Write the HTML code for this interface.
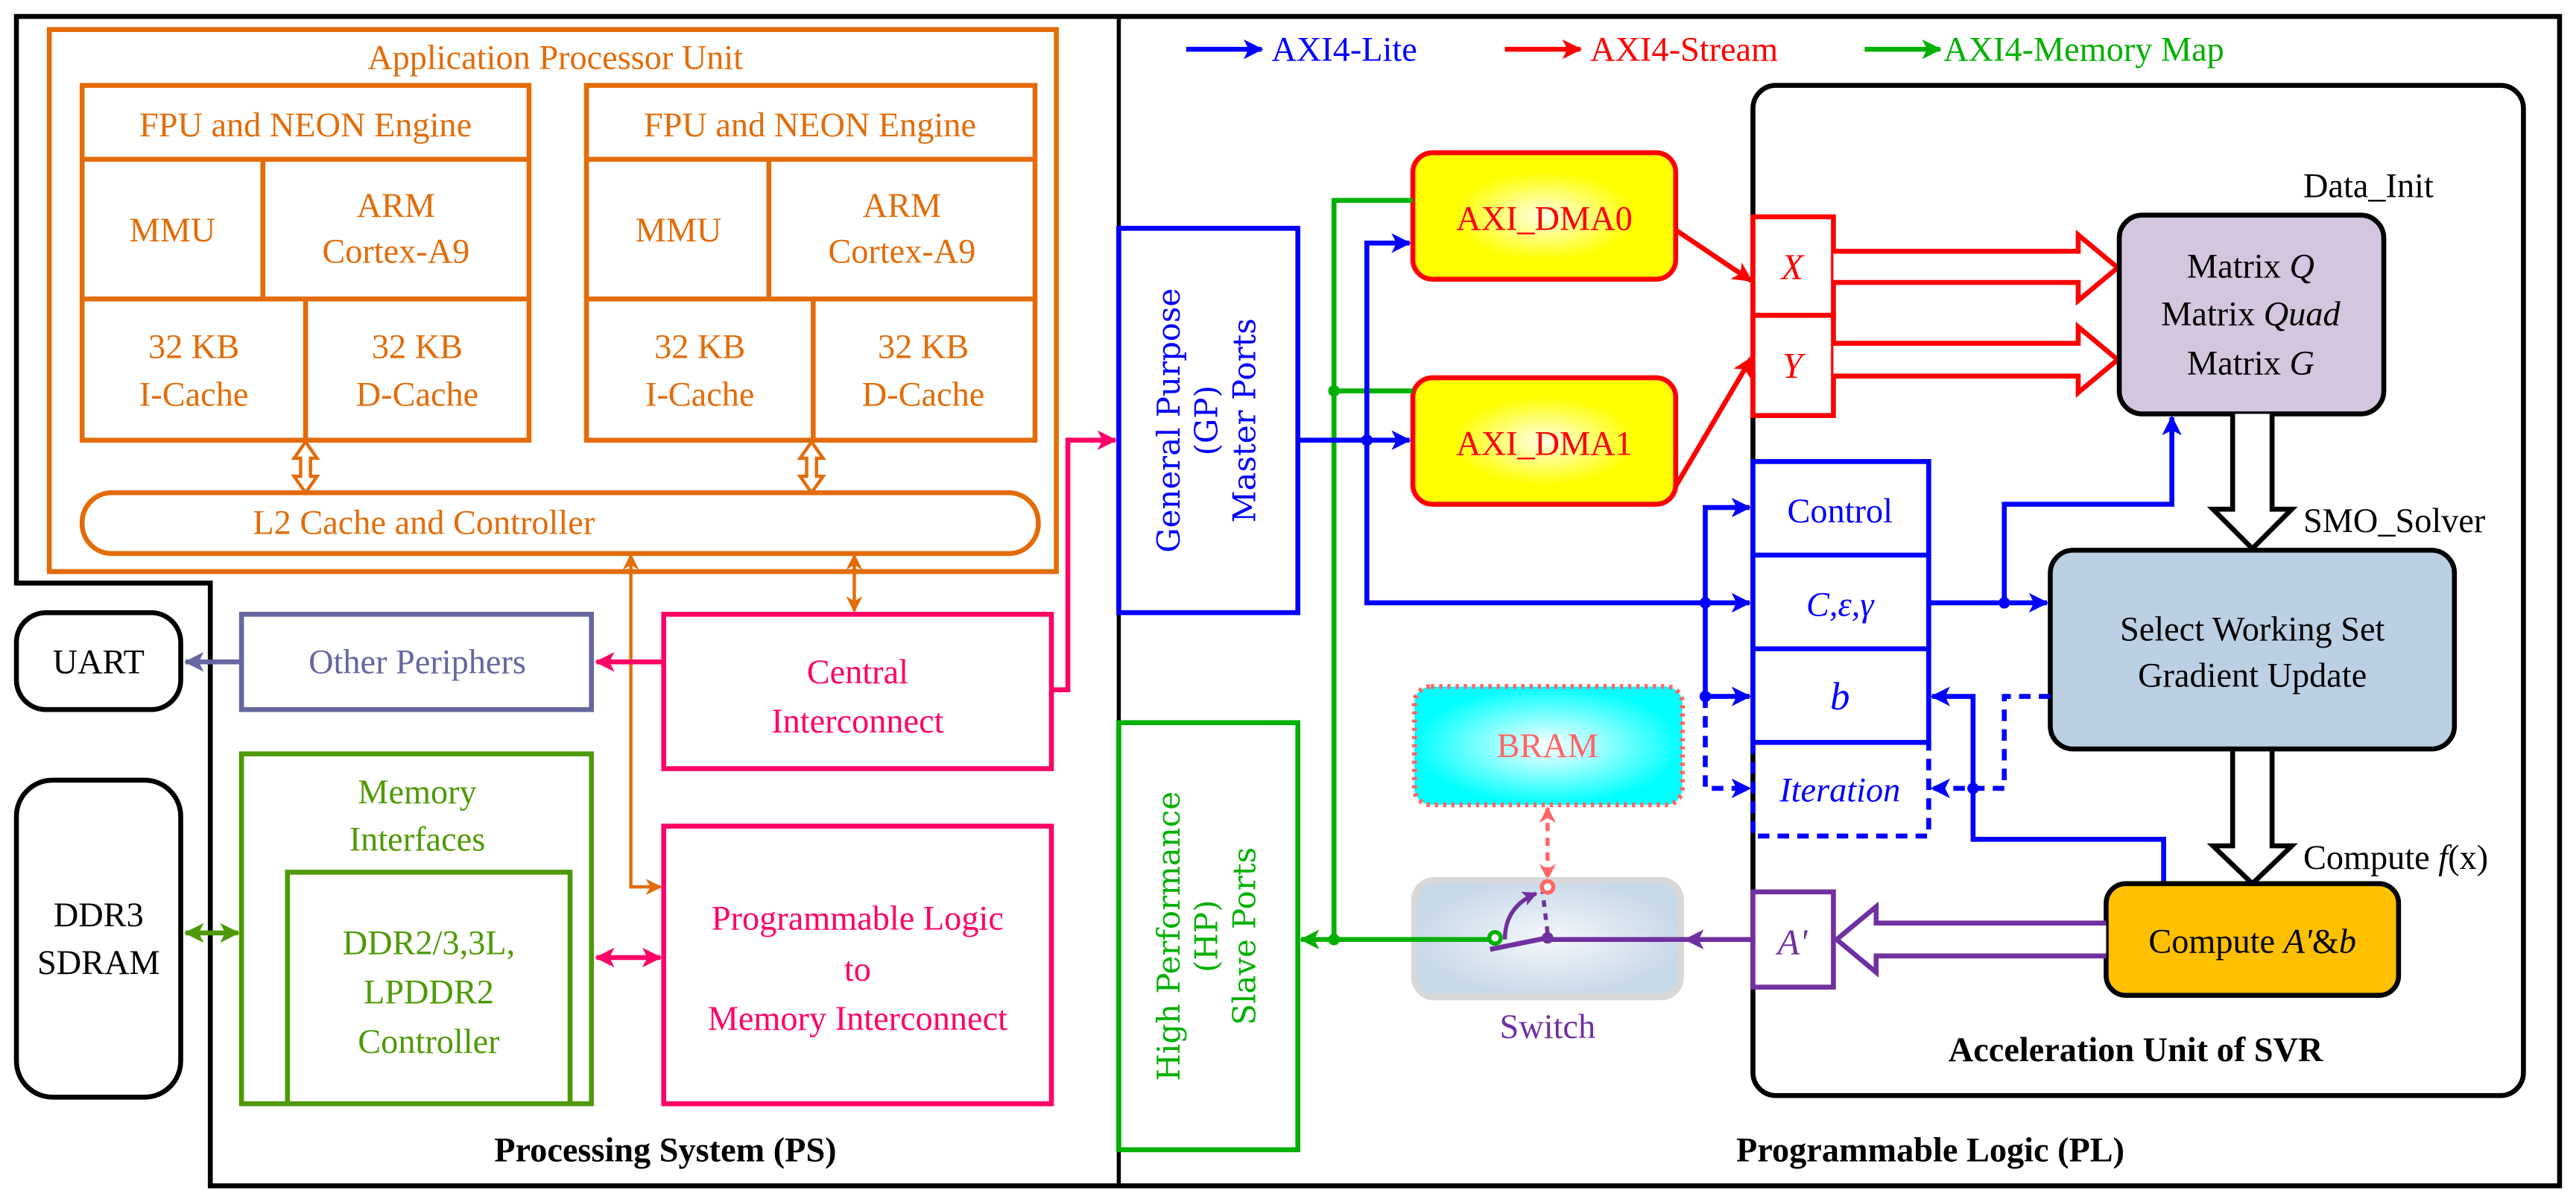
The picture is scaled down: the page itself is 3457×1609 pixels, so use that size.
<!DOCTYPE html>
<html><head><meta charset="utf-8"><style>
html,body{margin:0;padding:0;background:#fff;}
svg{display:block;}
</style></head><body>
<svg width="3457" height="1609" viewBox="0 0 1568 730" preserveAspectRatio="none" xmlns="http://www.w3.org/2000/svg" font-family="'Liberation Serif', 'DejaVu Serif Condensed', serif">
<defs>
<marker id="aO" markerWidth="10" markerHeight="10" refX="9" refY="5" orient="auto-start-reverse" markerUnits="userSpaceOnUse"><path d="M0,0 L10,5 L0,10 L3,5 Z" fill="#e36c09"/></marker>
<marker id="aP" markerWidth="12" markerHeight="12" refX="11" refY="6" orient="auto-start-reverse" markerUnits="userSpaceOnUse"><path d="M0,0 L12,6 L0,12 L3,6 Z" fill="#ff0066"/></marker>
<marker id="aS" markerWidth="12" markerHeight="12" refX="11" refY="6" orient="auto-start-reverse" markerUnits="userSpaceOnUse"><path d="M0,0 L12,6 L0,12 L3,6 Z" fill="#6666a0"/></marker>
<marker id="aG" markerWidth="12" markerHeight="12" refX="11" refY="6" orient="auto-start-reverse" markerUnits="userSpaceOnUse"><path d="M0,0 L12,6 L0,12 L3,6 Z" fill="#4e9a06"/></marker>
<marker id="aG2" markerWidth="12" markerHeight="12" refX="11" refY="6" orient="auto-start-reverse" markerUnits="userSpaceOnUse"><path d="M0,0 L12,6 L0,12 L3,6 Z" fill="#00b000"/></marker>
<marker id="aB" markerWidth="12" markerHeight="12" refX="11" refY="6" orient="auto-start-reverse" markerUnits="userSpaceOnUse"><path d="M0,0 L12,6 L0,12 L3,6 Z" fill="#0000ff"/></marker>
<marker id="aR" markerWidth="12" markerHeight="12" refX="11" refY="6" orient="auto-start-reverse" markerUnits="userSpaceOnUse"><path d="M0,0 L12,6 L0,12 L3,6 Z" fill="#ff0000"/></marker>
<marker id="aV" markerWidth="12" markerHeight="12" refX="11" refY="6" orient="auto-start-reverse" markerUnits="userSpaceOnUse"><path d="M0,0 L12,6 L0,12 L3,6 Z" fill="#7030a0"/></marker>
<marker id="aV2" markerWidth="9" markerHeight="9" refX="8" refY="4.5" orient="auto" markerUnits="userSpaceOnUse"><path d="M0,0 L9,4.5 L0,9 L2,4.5 Z" fill="#7030a0"/></marker>
<marker id="aL" markerWidth="10" markerHeight="10" refX="9" refY="5" orient="auto-start-reverse" markerUnits="userSpaceOnUse"><path d="M0,0 L10,5 L0,10 L3,5 Z" fill="#ff6666"/></marker>
<radialGradient id="gy"><stop offset="0" stop-color="#ffffe8"/><stop offset="0.7" stop-color="#ffff00"/></radialGradient>
<radialGradient id="gc"><stop offset="0" stop-color="#ffffff"/><stop offset="1" stop-color="#00ffff"/></radialGradient>
<radialGradient id="gs"><stop offset="0" stop-color="#f4f7fb"/><stop offset="1" stop-color="#c8d9e8"/></radialGradient>
</defs>

<path d="M10,355 L10,10 L1558,10 L1558,722 L128,722 L128,355 Z" fill="none" stroke="#000" stroke-width="3"/>
<line x1="681" y1="10" x2="681" y2="722" stroke="#000" stroke-width="2.5"/>

<g stroke="#e36c09" stroke-width="3" fill="none">
<rect x="30" y="18" width="613" height="330"/>
<rect x="50" y="52" width="272" height="216"/>
<line x1="50" y1="97" x2="322" y2="97"/><line x1="50" y1="182" x2="322" y2="182"/>
<line x1="160" y1="97" x2="160" y2="182"/><line x1="186" y1="182" x2="186" y2="268"/>
<rect x="357" y="52" width="273" height="216"/>
<line x1="357" y1="97" x2="630" y2="97"/><line x1="357" y1="182" x2="630" y2="182"/>
<line x1="468" y1="97" x2="468" y2="182"/><line x1="495" y1="182" x2="495" y2="268"/>
<rect x="50" y="300" width="582" height="37" rx="18"/>
<path d="M186,269 L193,279 L189,279 L189,290 L193,290 L186,300 L179,290 L183,290 L183,279 L179,279 Z" stroke-width="2"/>
<path d="M494,269 L501,279 L497,279 L497,290 L501,290 L494,300 L487,290 L491,290 L491,279 L487,279 Z" stroke-width="2"/>
<polyline points="384,338 384,540 402,540" marker-start="url(#aO)" marker-end="url(#aO)" stroke-width="2"/>
<line x1="520" y1="338" x2="520" y2="372" marker-start="url(#aO)" marker-end="url(#aO)" stroke-width="2"/>
</g>
<g fill="#e36c09" font-size="21" text-anchor="middle">
<text x="338" y="42">Application Processor Unit</text>
<text x="186" y="83">FPU and NEON Engine</text>
<text x="493" y="83">FPU and NEON Engine</text>
<text x="105" y="147">MMU</text><text x="241" y="132">ARM</text><text x="241" y="160">Cortex-A9</text>
<text x="413" y="147">MMU</text><text x="549" y="132">ARM</text><text x="549" y="160">Cortex-A9</text>
<text x="118" y="218">32 KB</text><text x="118" y="247">I-Cache</text>
<text x="254" y="218">32 KB</text><text x="254" y="247">D-Cache</text>
<text x="426" y="218">32 KB</text><text x="426" y="247">I-Cache</text>
<text x="562" y="218">32 KB</text><text x="562" y="247">D-Cache</text>
<text x="258" y="325">L2 Cache and Controller</text>
</g>

<rect x="10" y="373" width="100" height="59" rx="18" fill="none" stroke="#000" stroke-width="3"/>
<text x="60" y="410" font-size="21" text-anchor="middle">UART</text>
<rect x="10" y="475" width="100" height="193" rx="22" fill="none" stroke="#000" stroke-width="3"/>
<text x="60" y="564" font-size="21" text-anchor="middle">DDR3</text>
<text x="60" y="593" font-size="21" text-anchor="middle">SDRAM</text>

<rect x="147" y="374" width="213" height="58" fill="none" stroke="#6666a0" stroke-width="3"/>
<text x="254" y="410" font-size="21" text-anchor="middle" fill="#6666a0">Other Periphers</text>
<line x1="147" y1="403" x2="113" y2="403" stroke="#6666a0" stroke-width="3" marker-end="url(#aS)"/>

<rect x="404" y="374" width="236" height="94" fill="none" stroke="#ff0066" stroke-width="3"/>
<text x="522" y="416" font-size="21" text-anchor="middle" fill="#ff0066">Central</text>
<text x="522" y="446" font-size="21" text-anchor="middle" fill="#ff0066">Interconnect</text>
<line x1="404" y1="403" x2="363" y2="403" stroke="#ff0066" stroke-width="3" marker-end="url(#aP)"/>
<polyline points="640,420 650,420 650,268 679,268" fill="none" stroke="#ff0066" stroke-width="3" marker-end="url(#aP)"/>

<g stroke="#4e9a06" stroke-width="3" fill="none">
<rect x="147" y="459" width="213" height="213"/>
<polyline points="175,672 175,531 347,531 347,672"/>
<line x1="113" y1="568" x2="145" y2="568" marker-start="url(#aG)" marker-end="url(#aG)"/>
</g>
<g fill="#4e9a06" font-size="21" text-anchor="middle">
<text x="254" y="489">Memory</text><text x="254" y="518">Interfaces</text>
<text x="261" y="581">DDR2/3,3L,</text><text x="261" y="611">LPDDR2</text><text x="261" y="641">Controller</text>
</g>

<rect x="404" y="503" width="236" height="169" fill="none" stroke="#ff0066" stroke-width="3"/>
<line x1="363" y1="583" x2="402" y2="583" stroke="#ff0066" stroke-width="3" marker-start="url(#aP)" marker-end="url(#aP)"/>
<g fill="#ff0066" font-size="21" text-anchor="middle">
<text x="522" y="566">Programmable Logic</text><text x="522" y="597">to</text><text x="522" y="627">Memory Interconnect</text>
</g>
<text x="405" y="707" font-size="21" font-weight="bold" text-anchor="middle">Processing System (PS)</text>

<rect x="681" y="139" width="109" height="234" fill="none" stroke="#0000ff" stroke-width="3"/>
<g transform="translate(735,256) rotate(-90)" fill="#0000ff" font-size="19" text-anchor="middle" font-family="'DejaVu Serif', serif">
<text x="0" y="-17">General Purpose</text><text x="0" y="6">(GP)</text><text x="0" y="29">Master Ports</text>
</g>
<rect x="681" y="440" width="109" height="260" fill="none" stroke="#00b000" stroke-width="3"/>
<g transform="translate(735,570) rotate(-90)" fill="#00b000" font-size="19" text-anchor="middle" font-family="'DejaVu Serif', serif">
<text x="0" y="-17">High Performance</text><text x="0" y="6">(HP)</text><text x="0" y="29">Slave Ports</text>
</g>

<line x1="722" y1="30" x2="768" y2="30" stroke="#0000ff" stroke-width="3" marker-end="url(#aB)"/>
<text x="774" y="37" font-size="21" fill="#0000ff">AXI4-Lite</text>
<line x1="916" y1="30" x2="962" y2="30" stroke="#ff0000" stroke-width="3" marker-end="url(#aR)"/>
<text x="968" y="37" font-size="21" fill="#ff0000">AXI4-Stream</text>
<line x1="1135" y1="30" x2="1181" y2="30" stroke="#00b000" stroke-width="3" marker-end="url(#aG2)"/>
<text x="1183" y="37" font-size="21" fill="#00b000">AXI4-Memory Map</text>

<rect x="1067" y="52" width="469" height="615" rx="14" fill="none" stroke="#000" stroke-width="3"/>
<text x="1300" y="646" font-size="21" font-weight="bold" text-anchor="middle">Acceleration Unit of SVR</text>

<rect x="860" y="93" width="160" height="77" rx="12" fill="url(#gy)" stroke="#ff0000" stroke-width="3"/>
<text x="940" y="140" font-size="21" fill="#ff0000" text-anchor="middle">AXI_DMA0</text>
<rect x="860" y="230" width="160" height="77" rx="12" fill="url(#gy)" stroke="#ff0000" stroke-width="3"/>
<text x="940" y="277" font-size="21" fill="#ff0000" text-anchor="middle">AXI_DMA1</text>

<polyline points="860,122 812,122 812,572 792,572" fill="none" stroke="#00b000" stroke-width="3" marker-end="url(#aG2)"/>
<line x1="812" y1="238" x2="860" y2="238" stroke="#00b000" stroke-width="3"/>
<circle cx="812" cy="238" r="3.5" fill="#00b000"/>
<circle cx="812" cy="572" r="3.5" fill="#00b000"/>

<line x1="790" y1="268" x2="858" y2="268" stroke="#0000ff" stroke-width="3" marker-end="url(#aB)"/>
<polyline points="858,148 832,148 832,367 1065,367" fill="none" stroke="#0000ff" stroke-width="3" marker-start="url(#aB)" marker-end="url(#aB)"/>
<circle cx="832" cy="268" r="3.5" fill="#0000ff"/>

<rect x="1067" y="132" width="49" height="60" fill="#fff" stroke="#ff0000" stroke-width="3"/>
<rect x="1067" y="192" width="49" height="61" fill="#fff" stroke="#ff0000" stroke-width="3"/>
<text x="1091" y="170" font-size="22" font-style="italic" fill="#ff0000" text-anchor="middle">X</text>
<text x="1091" y="230" font-size="22" font-style="italic" fill="#ff0000" text-anchor="middle">Y</text>
<line x1="1020" y1="140" x2="1066" y2="171" stroke="#ff0000" stroke-width="3" marker-end="url(#aR)"/>
<line x1="1020" y1="296" x2="1066" y2="218" stroke="#ff0000" stroke-width="3" marker-end="url(#aR)"/>
<path d="M1116,153 L1265,153 L1265,143 L1289,163 L1265,183 L1265,172 L1116,172" fill="#fff" stroke="#ff0000" stroke-width="3"/>
<path d="M1116,209 L1265,209 L1265,199 L1289,219 L1265,239 L1265,229 L1116,229" fill="#fff" stroke="#ff0000" stroke-width="3"/>

<rect x="1290" y="131" width="161" height="121" rx="14" fill="#d3c6de" stroke="#000" stroke-width="3"/>
<g font-size="21" text-anchor="middle">
<text x="1370" y="169">Matrix <tspan font-style="italic">Q</tspan></text>
<text x="1370" y="198">Matrix <tspan font-style="italic">Quad</tspan></text>
<text x="1370" y="228">Matrix <tspan font-style="italic">G</tspan></text>
<text x="1402" y="120" text-anchor="start">Data_Init</text>
<text x="1402" y="324" text-anchor="start">SMO_Solver</text>
<text x="1402" y="529" text-anchor="start">Compute <tspan font-style="italic">f</tspan>(x)</text>
</g>
<path d="M1359,252 L1359,310 L1347,310 L1371,334 L1395,310 L1383,310 L1383,252" fill="#fff" stroke="#000" stroke-width="3"/>
<path d="M1359,456 L1359,515 L1347,515 L1371,538 L1395,515 L1383,515 L1383,456" fill="#fff" stroke="#000" stroke-width="3"/>

<rect x="1248" y="335" width="246" height="121" rx="14" fill="#bcd0e4" stroke="#000" stroke-width="3"/>
<text x="1371" y="390" font-size="21" text-anchor="middle">Select Working Set</text>
<text x="1371" y="418" font-size="21" text-anchor="middle">Gradient Update</text>

<g stroke="#0000ff" stroke-width="3" fill="#fff">
<rect x="1067" y="281" width="107" height="171"/>
<line x1="1067" y1="338" x2="1174" y2="338"/>
<line x1="1067" y1="395" x2="1174" y2="395"/>
<polyline points="1067,452 1067,509 1174,509 1174,452" fill="none" stroke-dasharray="7,5"/>
</g>
<g fill="#0000ff" font-size="21" text-anchor="middle">
<text x="1120" y="318">Control</text>
<text x="1120" y="375" font-style="italic">C,ε,γ</text>
<text x="1120" y="432" font-style="italic" font-size="24">b</text>
<text x="1120" y="488" font-style="italic">Iteration</text>
</g>
<polyline points="1065,309 1038,309 1038,424 1065,424" fill="none" stroke="#0000ff" stroke-width="3" marker-start="url(#aB)" marker-end="url(#aB)"/>
<polyline points="1038,424 1038,480 1065,480" fill="none" stroke="#0000ff" stroke-width="3" stroke-dasharray="7,5" marker-end="url(#aB)"/>
<circle cx="1038" cy="367" r="3.5" fill="#0000ff"/><circle cx="1038" cy="424" r="3.5" fill="#0000ff"/>
<line x1="1174" y1="367" x2="1246" y2="367" stroke="#0000ff" stroke-width="3" marker-end="url(#aB)"/>
<polyline points="1220,367 1220,307 1322,307 1322,254" fill="none" stroke="#0000ff" stroke-width="3" marker-end="url(#aB)"/>
<circle cx="1220" cy="367" r="3.5" fill="#0000ff"/>
<polyline points="1317,538 1317,511 1201,511 1201,424 1176,424" fill="none" stroke="#0000ff" stroke-width="3" marker-end="url(#aB)"/>
<polyline points="1248,424 1220,424 1220,480 1176,480" fill="none" stroke="#0000ff" stroke-width="3" stroke-dasharray="7,5" marker-end="url(#aB)"/>
<circle cx="1201" cy="480" r="3.5" fill="#0000ff"/>

<rect x="1282" y="538" width="178" height="68" rx="12" fill="#ffc000" stroke="#000" stroke-width="3"/>
<text x="1371" y="580" font-size="21" text-anchor="middle">Compute <tspan font-style="italic">A'</tspan>&amp;<tspan font-style="italic">b</tspan></text>
<rect x="1067" y="543" width="49" height="58" fill="#fff" stroke="#7030a0" stroke-width="3"/>
<text x="1091" y="581" font-size="22" font-style="italic" fill="#7030a0" text-anchor="middle">A'</text>
<path d="M1282,562 L1142,562 L1142,552 L1118,572 L1142,592 L1142,582 L1282,582" fill="#fff" stroke="#7030a0" stroke-width="3"/>

<rect x="861" y="418" width="163" height="72" rx="10" fill="url(#gc)" stroke="#ff6666" stroke-width="3" stroke-dasharray="2,3"/>
<text x="942" y="461" font-size="21" fill="#ff6666" text-anchor="middle">BRAM</text>
<line x1="942" y1="492" x2="942" y2="535" stroke="#ff6666" stroke-width="2.5" stroke-dasharray="5,4" marker-start="url(#aL)" marker-end="url(#aL)"/>

<rect x="861" y="536" width="162" height="71" rx="12" fill="url(#gs)" stroke="#d8d8d8" stroke-width="4"/>
<line x1="1067" y1="572" x2="1026" y2="572" stroke="#7030a0" stroke-width="3" marker-end="url(#aV)"/>
<line x1="1026" y1="572" x2="942" y2="572" stroke="#7030a0" stroke-width="3"/>
<line x1="812" y1="572" x2="906" y2="572" stroke="#00b000" stroke-width="3"/>
<line x1="907" y1="578" x2="942" y2="571" stroke="#7030a0" stroke-width="3"/>
<circle cx="942" cy="571" r="3.5" fill="#7030a0"/>
<line x1="942" y1="568" x2="939" y2="543" stroke="#7030a0" stroke-width="2.5" stroke-dasharray="4,4"/>
<path d="M916,572 Q916,552 935,544" fill="none" stroke="#7030a0" stroke-width="2.5" marker-end="url(#aV2)"/>
<circle cx="910" cy="571" r="3.5" fill="#fff" stroke="#00b000" stroke-width="2.5"/>
<circle cx="942" cy="540" r="3.5" fill="#fff" stroke="#ff6666" stroke-width="2.5"/>
<text x="942" y="632" font-size="21" fill="#7030a0" text-anchor="middle">Switch</text>

<text x="1175" y="707" font-size="21" font-weight="bold" text-anchor="middle">Programmable Logic (PL)</text>
</svg>
</body></html>
